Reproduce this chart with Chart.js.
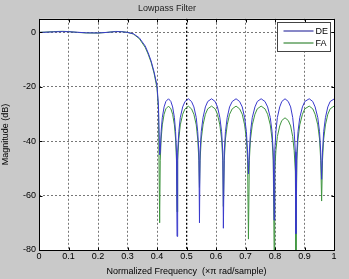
<!DOCTYPE html>
<html>
<head>
<meta charset="utf-8">
<script src="https://cdn.jsdelivr.net/npm/chart.js@4"></script>
<style>
html,body{margin:0;padding:0;background:#c9c9c9;}
#wrap{width:349px;height:279px;position:relative;}
</style>
</head>
<body>
<div id="wrap"><canvas id="c" width="349" height="279"></canvas></div>
<script>
const chartTitle = "Lowpass Filter";
const xTitle = "Normalized Frequency  (\u00d7\u03c0 rad/sample)";
const yTitle = "Magnitude (dB)";
const seriesNames = ["DE", "FA"];
const xTicks = [0, 0.1, 0.2, 0.3, 0.4, 0.5, 0.6, 0.7, 0.8, 0.9, 1];
const yTicks = [0, -20, -40, -60, -80];

const freq = [
  0, 0.02, 0.05, 0.08, 0.1, 0.13, 0.16, 0.2, 0.23, 0.26, 0.28, 0.3, 0.32, 0.34, 0.36, 0.37, 0.38, 0.39, 0.4, 0.405,
  0.409,
  0.411, 0.414, 0.418, 0.424, 0.430, 0.439, 0.447, 0.453, 0.459, 0.463, 0.466,
  0.468,
  0.470, 0.474, 0.479, 0.487, 0.495, 0.506, 0.517, 0.525, 0.533, 0.538, 0.542,
  0.544,
  0.546, 0.550, 0.556, 0.564, 0.572, 0.585, 0.597, 0.605, 0.613, 0.619, 0.623,
  0.625,
  0.628, 0.632, 0.638, 0.646, 0.655, 0.668, 0.680, 0.689, 0.697, 0.703, 0.707,
  0.710,
  0.713, 0.717, 0.723, 0.732, 0.740, 0.753, 0.766, 0.775, 0.784, 0.790, 0.794,
  0.797,
  0.799, 0.803, 0.808, 0.816, 0.823, 0.834, 0.845, 0.853, 0.860, 0.865, 0.869,
  0.871,
  0.874, 0.878, 0.884, 0.893, 0.901, 0.916, 0.928, 0.936, 0.945, 0.951, 0.955,
  0.958,
  0.961, 0.965, 0.971, 0.979, 0.987, 1.0
];

const deMag = [
  0, 0.05, 0.2, 0.3, 0.25, 0.05, -0.15, -0.2, 0, 0.3, 0.25, 0, -0.5, -2, -5, -7.5, -10.5, -14.5, -19.5, -27,
  -45,
  -44, -36.5, -31.3, -27.4, -25.4, -24.4, -25.4, -27.4, -31.3, -36.5, -44,
  -75,
  -44, -36.5, -31.3, -27.4, -25.4, -24.4, -25.4, -27.4, -31.3, -36.5, -44,
  -70,
  -44, -36.5, -31.3, -27.4, -25.4, -24.4, -25.4, -27.4, -31.3, -36.5, -44,
  -72,
  -44, -36.5, -31.3, -27.4, -25.4, -24.4, -25.4, -27.4, -31.3, -36.5, -44,
  -52,
  -44, -36.5, -31.3, -27.4, -25.4, -24.4, -25.4, -27.4, -31.3, -36.5, -44,
  -69,
  -44, -36.5, -31.3, -27.4, -25.4, -24.4, -25.4, -27.4, -31.3, -36.5, -44,
  -74,
  -44, -36.5, -31.3, -27.4, -25.4, -24.4, -25.4, -27.4, -31.3, -36.5, -44,
  -54,
  -44, -36.5, -31.3, -27.4, -25.4, -24.5
];

const faMag = [
  0, 0.1, 0.3, 0.4, 0.3, 0, -0.2, -0.25, 0, 0.35, 0.3, 0, -0.6, -2.3, -5.5, -8, -11, -15, -20.5, -28,
  -70,
  -47, -39.2, -34, -30.1, -28.1, -27.1, -28.1, -30.1, -34, -39.2, -47,
  -66,
  -47, -39.2, -34, -30.1, -28.1, -27.1, -28.1, -30.1, -34, -39.2, -47,
  -57,
  -47, -39.2, -34, -30.1, -28.1, -27.1, -28.1, -30.1, -34, -39.2, -47,
  -64,
  -47, -39.2, -34, -30.1, -28.1, -27.1, -28.1, -30.1, -34, -39.2, -47,
  -76,
  -47, -39.2, -34, -30.1, -28.1, -27.1, -28.1, -30.1, -34, -39.2, -47,
  -80,
  -51, -43.5, -38.3, -34.4, -32.4, -31.4, -32.4, -34.4, -38.3, -43.5, -51,
  -80,
  -47, -39.2, -34, -30.1, -28.1, -27.1, -28.1, -30.1, -34, -39.2, -47,
  -62,
  -47, -39.2, -34, -30.1, -28.1, -27.1
];

const colors = ["#3a3acc", "#3f953f"];
const legendColors = ["#101090", "#107010"];

function pts(xs, ys) { return xs.map((x, i) => ({x: x, y: ys[i]})); }

const FONT = "'Liberation Sans', Arial, sans-serif";

const frame = {
  id: 'frame',
  beforeDraw(chart) {
    const {ctx, chartArea: a} = chart;
    ctx.save();
    ctx.fillStyle = '#ffffff';
    ctx.fillRect(a.left, a.top, a.right - a.left, a.bottom - a.top);
    ctx.restore();
  },
  afterDatasetsDraw(chart) {
    const {ctx, chartArea: a, scales} = chart;
    ctx.save();
    ctx.strokeStyle = '#000';
    ctx.lineWidth = 1;
    const L = Math.round(a.left) + 0.5, T = Math.round(a.top) + 0.5;
    const R = L + Math.round(a.right - a.left), B = T + Math.round(a.bottom - a.top);
    ctx.strokeRect(L, T, R - L, B - T);
    // inward tick marks
    ctx.beginPath();
    xTicks.forEach(v => {
      const x = Math.round(scales.x.getPixelForValue(v)) + 0.5;
      ctx.moveTo(x, B); ctx.lineTo(x, B - 3);
      ctx.moveTo(x, T); ctx.lineTo(x, T + 3);
    });
    yTicks.forEach(v => {
      const y = Math.round(scales.y.getPixelForValue(v)) + 0.5;
      ctx.moveTo(L, y); ctx.lineTo(L + 3, y);
      ctx.moveTo(R, y); ctx.lineTo(R - 3, y);
    });
    ctx.stroke();
    // legend box
    const bx = 277.5, by = 22.5, bw = 53, bh = 29;
    ctx.fillStyle = '#fff';
    ctx.fillRect(bx, by, bw, bh);
    ctx.strokeStyle = '#444';
    ctx.strokeRect(bx, by, bw, bh);
    ctx.font = "9px " + FONT;
    ctx.textBaseline = 'middle';
    ctx.textAlign = 'left';
    seriesNames.forEach((n, i) => {
      const y = by + 8 + i * 12;
      ctx.strokeStyle = legendColors[i];
      ctx.beginPath();
      ctx.moveTo(bx + 6, y + 0.5);
      ctx.lineTo(bx + 36, y + 0.5);
      ctx.stroke();
      ctx.fillStyle = '#000';
      ctx.fillText(n, bx + 38, y + 1);
    });
    ctx.restore();
  }
};

new Chart(document.getElementById('c'), {
  type: 'line',
  data: {
    datasets: seriesNames.map((n, i) => ({
      label: n,
      data: pts(freq, i === 0 ? deMag : faMag),
      borderColor: colors[i],
      borderWidth: 1,
      pointRadius: 0,
      tension: 0,
      fill: false
    }))
  },
  plugins: [frame],
  options: {
    responsive: false,
    animation: false,
    devicePixelRatio: 1,
    layout: {padding: {left: 0, right: 15, top: 0, bottom: 0}},
    plugins: {
      legend: {display: false},
      tooltip: {enabled: false},
      title: {
        display: true, text: chartTitle, color: '#222',
        font: {family: FONT, size: 9, weight: 'normal'},
        padding: {top: 3, bottom: 5}
      }
    },
    scales: {
      x: {
        type: 'linear', min: 0, max: 1,
        afterBuildTicks(s) { s.ticks = xTicks.map(v => ({value: v})); },
        afterFit(s) { s.height = 29; },
        ticks: {
          color: '#000', font: {family: FONT, size: 9}, padding: 1,
          maxRotation: 0, autoSkip: false,
          callback: v => String(v)
        },
        grid: {
          drawTicks: false,
          color: ctx => (ctx.tick && ctx.tick.value === 0.5) ? '#000' : '#555',
          lineWidth: ctx => (ctx.tick && ctx.tick.value === 0.5) ? 1.3 : 0.8
        },
        border: {display: false, dash: [2, 2]},
        title: {
          display: true, text: xTitle, color: '#000',
          font: {family: FONT, size: 9}, padding: {top: 0, bottom: 2}
        }
      },
      y: {
        type: 'linear', min: -80, max: 5,
        afterBuildTicks(s) { s.ticks = yTicks.map(v => ({value: v})); },
        afterFit(s) { s.width = 39; },
        ticks: {
          color: '#000', font: {family: FONT, size: 9}, padding: 3,
          autoSkip: false, callback: v => String(v)
        },
        grid: {drawTicks: false, color: '#555', lineWidth: 0.8},
        border: {display: false, dash: [2, 2]},
        title: {
          display: true, text: yTitle, color: '#000',
          font: {family: FONT, size: 9}, padding: {top: 0, bottom: 4}
        }
      }
    }
  }
});
</script>
</body>
</html>
